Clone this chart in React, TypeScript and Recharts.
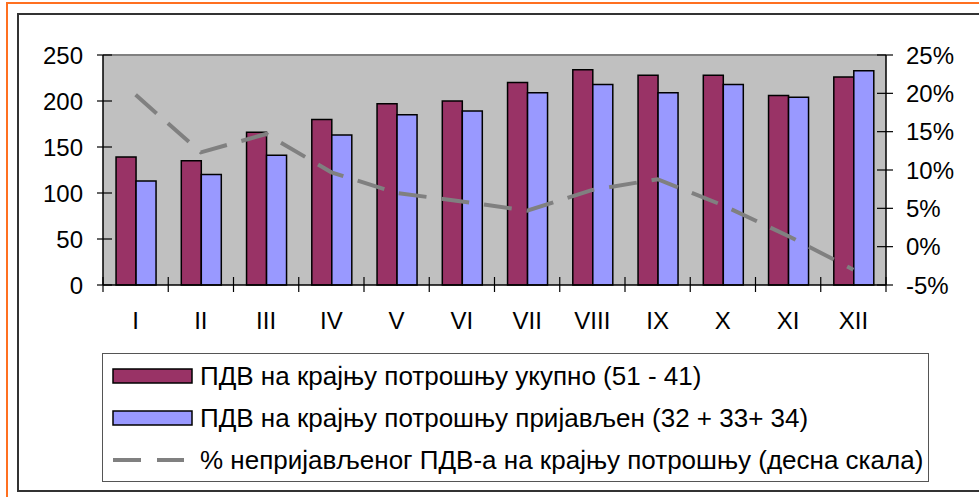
import React from 'react'
import { ComposedChart, Bar, Line, XAxis, YAxis, CartesianGrid, ReferenceLine, Legend } from 'recharts'

const months = ['I', 'II', 'III', 'IV', 'V', 'VI', 'VII', 'VIII', 'IX', 'X', 'XI', 'XII']
const totalVat = [139, 135, 166, 180, 197, 200, 220, 234, 228, 228, 206, 226]
const reportedVat = [113, 120, 141, 163, 185, 189, 209, 218, 209, 218, 204, 233]
const unreportedPct = [19.8, 12.3, 14.7, 9.7, 7.0, 5.9, 4.7, 7.4, 8.8, 5.4, 1.4, -3.0]
const leftTicks = [0, 50, 100, 150, 200, 250]
const rightTicks = [-5, 0, 5, 10, 15, 20, 25]
const seriesNames = [
  'ПДВ на крајњу потрошњу укупно (51 - 41)',
  'ПДВ на крајњу потрошњу пријављен (32 + 33+ 34)',
  '% непријављеног ПДВ-а на крајњу потрошњу (десна скала)',
]

const data = months.map((m, i) => ({
  month: m,
  total: totalVat[i],
  reported: reportedVat[i],
  pct: unreportedPct[i],
}))

const FONT = '"Liberation Sans", Arial, sans-serif'
const PLOT_LEFT = 103
const PLOT_RIGHT = 886
const BAND = (PLOT_RIGHT - PLOT_LEFT) / months.length

const XTick = (props: any) => {
  const { x, y, payload, index } = props
  const last = index === months.length - 1
  return (
    <g>
      <line x1={x - BAND / 2} x2={x - BAND / 2} y1={y - 8} y2={y + 7} stroke="#000" strokeWidth={1.2} />
      {last && <line x1={x + BAND / 2} x2={x + BAND / 2} y1={y - 8} y2={y + 7} stroke="#000" strokeWidth={1.2} />}
      <text x={x} y={y + 44} textAnchor="middle" fontSize={24} fontFamily={FONT} fill="#000">
        {payload.value}
      </text>
    </g>
  )
}

const LeftTick = (props: any) => {
  const { x, y, payload } = props
  return (
    <g>
      <line x1={x - 6} x2={x + 9} y1={y} y2={y} stroke="#000" strokeWidth={1.2} />
      <text x={x - 20} y={y} dy="0.36em" textAnchor="end" fontSize={24} fontFamily={FONT} fill="#000">
        {payload.value}
      </text>
    </g>
  )
}

const RightTick = (props: any) => {
  const { x, y, payload } = props
  return (
    <g>
      <line x1={x - 9} x2={x + 7} y1={y} y2={y} stroke="#000" strokeWidth={1.2} />
      <text x={x + 20} y={y} dy="0.36em" textAnchor="start" fontSize={24} fontFamily={FONT} fill="#000">
        {payload.value}%
      </text>
    </g>
  )
}

const LegendBox = (props: any) => {
  const items = [...(props.payload || [])].sort(
    (a: any, b: any) => seriesNames.indexOf(a.value) - seriesNames.indexOf(b.value)
  )
  return (
    <div
      style={{
        boxSizing: 'border-box',
        width: 827,
        height: 129,
        border: '1px solid #555',
        background: '#fff',
        padding: '0 0 0 9px',
        fontFamily: FONT,
        fontSize: 26,
        color: '#000',
      }}
    >
      {items.map((it: any, i: number) => (
        <div key={i} style={{ display: 'flex', alignItems: 'center', height: 42, marginTop: i === 0 ? 1 : 0 }}>
          <svg width={88} height={20} style={{ flex: 'none' }}>
            {it.type === 'line' ? (
              <line x1={1} x2={72} y1={10} y2={10} stroke={it.color} strokeWidth={4} strokeDasharray="28 16" />
            ) : (
              <rect x={1} y={3} width={79} height={14} fill={it.color} stroke="#000" strokeWidth={1.5} />
            )}
          </svg>
          <span style={{ whiteSpace: 'nowrap' }}>{it.value}</span>
        </div>
      ))}
    </div>
  )
}

export default function App() {
  return (
    <div style={{ position: 'absolute', left: 0, top: 0, width: 979, height: 497, overflow: 'hidden', background: '#fff' }}>
      <div style={{ position: 'absolute', left: 6, top: 2, width: 1200, height: 1200, borderLeft: '2px solid #FF7020', borderTop: '2px solid #FF7020' }} />
      <div style={{ position: 'absolute', left: 17, top: 13, width: 1200, height: 475, borderLeft: '2px solid #333', borderTop: '2px solid #333', borderBottom: '2px solid #333' }} />
      <div style={{ position: 'absolute', left: 0, top: 0 }}>
        <ComposedChart
          width={979}
          height={497}
          data={data}
          margin={{ top: 55, right: 33, bottom: 172, left: 43 }}
          barCategoryGap="20%"
          barGap={0}
        >
          <CartesianGrid fill="#C0C0C0" horizontal={false} vertical={false} />
          <XAxis
            dataKey="month"
            height={40}
            tickSize={0}
            tickMargin={0}
            tickLine={false}
            axisLine={{ stroke: '#000', strokeWidth: 1.5 }}
            tick={<XTick />}
            interval={0}
          />
          <YAxis
            yAxisId="left"
            width={60}
            domain={[0, 250]}
            ticks={leftTicks}
            tickSize={0}
            tickMargin={0}
            tickLine={false}
            axisLine={{ stroke: '#000', strokeWidth: 1.5 }}
            tick={<LeftTick />}
            interval={0}
          />
          <YAxis
            yAxisId="right"
            orientation="right"
            width={60}
            domain={[-5, 25]}
            ticks={rightTicks}
            tickSize={0}
            tickMargin={0}
            tickLine={false}
            axisLine={{ stroke: '#000', strokeWidth: 1.5 }}
            tick={<RightTick />}
            interval={0}
          />
          <ReferenceLine yAxisId="left" y={250} stroke="#808080" strokeWidth={2} />
          <Bar
            yAxisId="left"
            dataKey="total"
            name={seriesNames[0]}
            fill="#993366"
            stroke="#000"
            strokeWidth={1.5}
            isAnimationActive={false}
            legendType="rect"
          />
          <Bar
            yAxisId="left"
            dataKey="reported"
            name={seriesNames[1]}
            fill="#9999FF"
            stroke="#000"
            strokeWidth={1.5}
            isAnimationActive={false}
            legendType="rect"
          />
          <Line
            yAxisId="right"
            dataKey="pct"
            name={seriesNames[2]}
            type="linear"
            stroke="#808080"
            strokeWidth={4}
            strokeDasharray="28 15"
            dot={false}
            activeDot={false}
            isAnimationActive={false}
            legendType="line"
          />
          <Legend
            layout="vertical"
            verticalAlign="middle"
            align="center"
            content={<LegendBox />}
            wrapperStyle={{ position: 'absolute', left: 102, top: 353, width: 827, height: 129 }}
          />
        </ComposedChart>
      </div>
    </div>
  )
}
